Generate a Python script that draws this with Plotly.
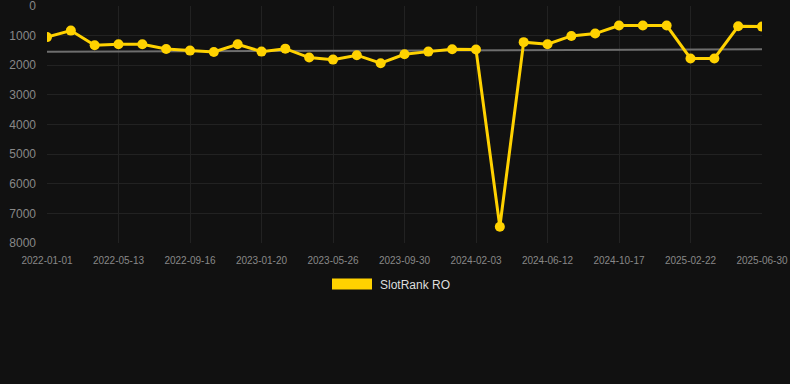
import numpy as np
import plotly.graph_objects as go

tick_labels = ["2022-01-01", "2022-05-13", "2022-09-16", "2023-01-20", "2023-05-26",
               "2023-09-30", "2024-02-03", "2024-06-12", "2024-10-17", "2025-02-22",
               "2025-06-30"]
rank_values = [1050, 830, 1325, 1290, 1290, 1450, 1505, 1550, 1290, 1540, 1440,
               1740, 1810, 1660, 1930, 1630, 1540, 1460, 1470, 7450, 1220, 1290,
               1010, 930, 660, 660, 660, 1770, 1770, 685, 695]
series_name = "SlotRank RO"

x_idx = np.arange(len(rank_values))
slope, intercept = np.polyfit(x_idx, rank_values, 1)
trend = slope * x_idx + intercept

GOLD = "#FFD200"
FONT = "Liberation Sans, Arial, sans-serif"

fig = go.Figure()
fig.add_trace(go.Scatter(x=x_idx, y=trend, mode="lines",
                         line=dict(color="#6e6e6e", width=2),
                         showlegend=False, hoverinfo="skip"))
fig.add_trace(go.Scatter(x=x_idx, y=rank_values, mode="lines+markers",
                         name=series_name,
                         line=dict(color=GOLD, width=3),
                         marker=dict(color=GOLD, size=10),
                         showlegend=False))

tick_pos = list(range(0, len(rank_values), 3))

fig.update_layout(
    width=790, height=384,
    paper_bgcolor="#111111", plot_bgcolor="#111111",
    margin=dict(l=47, r=28, t=6, b=141),
    font=dict(family=FONT, color="#888888"),
    showlegend=False,
    xaxis=dict(range=[0, len(rank_values) - 1], tickmode="array",
               tickvals=tick_pos, ticktext=tick_labels,
               showgrid=True, gridcolor="#222222", gridwidth=1,
               zeroline=False, showline=False, ticks="", automargin=False,
               tickfont=dict(size=10, color="#888888"),
               ticklabelstandoff=10, ticklabeloverflow="allow"),
    yaxis=dict(range=[8000, 0], tickmode="array",
               tickvals=list(range(0, 8001, 1000)),
               showgrid=True, gridcolor="#222222", gridwidth=1,
               zeroline=False, showline=False, ticks="", automargin=False,
               tickfont=dict(size=12, color="#888888"),
               ticklabelstandoff=10, ticklabeloverflow="allow"),
    shapes=[dict(type="rect", xref="paper", yref="paper",
                 x0=(332 - 47) / 715, x1=(372 - 47) / 715,
                 y0=(243 - 289.5) / 237, y1=(243 - 278.5) / 237,
                 fillcolor=GOLD, line=dict(width=0))],
    annotations=[dict(text=series_name, xref="paper", yref="paper",
                      x=(378 - 47) / 715, y=(243 - 284.5) / 237,
                      xanchor="left", yanchor="middle", showarrow=False,
                      font=dict(size=12, color="#dddddd", family=FONT))],
)

fig.write_html("out.html", config={"displayModeBar": False},
               post_script="document.body.style.margin='0';document.body.style.background='#111111';")
